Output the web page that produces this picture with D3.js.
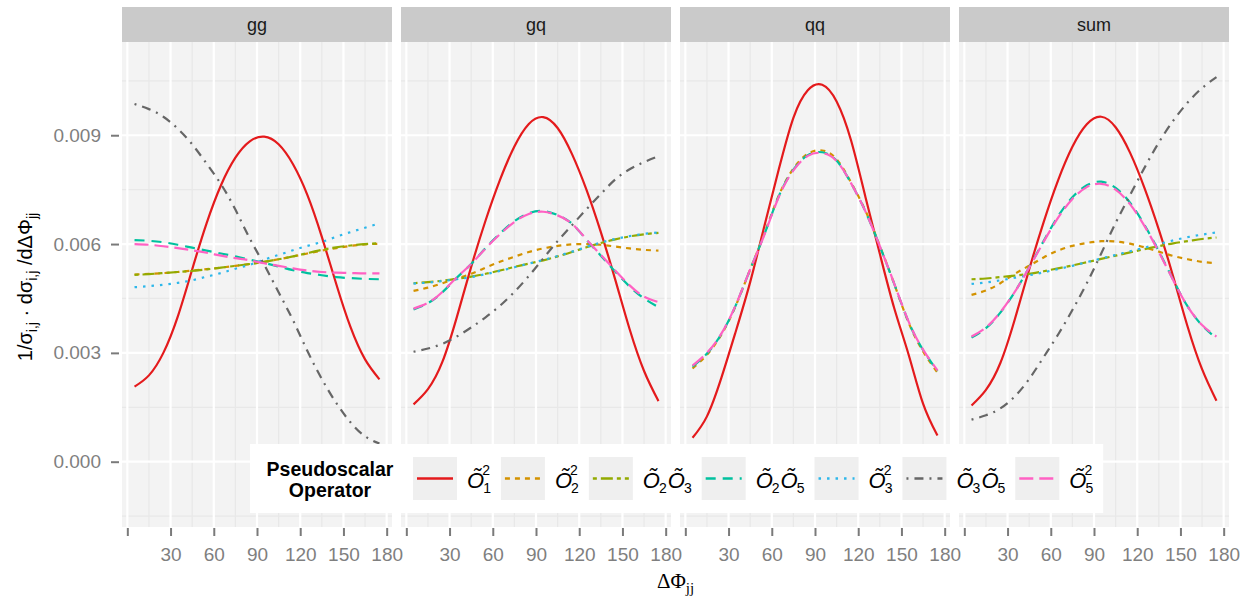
<!DOCTYPE html>
<html>
<head>
<meta charset="utf-8">
<script src="https://cdn.jsdelivr.net/npm/d3@7"></script>
<style>
    body { margin: 0; background: #ffffff; }
    text { font-family: "Liberation Sans", Arial, Helvetica, sans-serif; }
</style>
</head>
<body>
<svg id="drawing_region"></svg>
<script>
// ---- data ----
const panels = ['gg', 'gq', 'qq', 'sum'];
const operators = ['o1o1', 'o2o2', 'o2o3', 'o2o5', 'o3o3', 'o3o5', 'o5o5'];
const dphi = [5, 15, 25, 35, 45, 55, 65, 75, 85, 95, 105, 115, 125, 135, 145, 155, 165, 175];
const x_ticks = [0, 30, 60, 90, 120, 150, 180];
const y_ticks = [0, 0.003, 0.006, 0.009];

const gg_o1o1 = [0.00207,0.00238,0.00300,0.00400,0.00530,0.00657,0.00762,0.00838,0.00883,0.00896,0.00875,0.00820,0.00735,0.00620,0.00490,0.00370,0.00282,0.00227];
const gg_o2o2 = [0.00516,0.00518,0.00520,0.00523,0.00527,0.00531,0.00535,0.00540,0.00545,0.00551,0.00558,0.00566,0.00574,0.00582,0.00589,0.00595,0.00599,0.00601];
const gg_o2o3 = [0.00515,0.00517,0.00520,0.00523,0.00526,0.00530,0.00535,0.00540,0.00545,0.00551,0.00558,0.00566,0.00575,0.00584,0.00591,0.00596,0.00600,0.00602];
const gg_o2o5 = [0.00611,0.00609,0.00605,0.00598,0.00590,0.00582,0.00574,0.00566,0.00557,0.00548,0.00538,0.00528,0.00520,0.00514,0.00509,0.00506,0.00504,0.00503];
const gg_o3o3 = [0.00481,0.00484,0.00488,0.00493,0.00500,0.00510,0.00520,0.00532,0.00543,0.00557,0.00570,0.00583,0.00595,0.00606,0.00620,0.00633,0.00645,0.00657];
const gg_o3o5 = [0.00986,0.00972,0.00951,0.00918,0.00875,0.00822,0.00765,0.00695,0.00615,0.00543,0.00467,0.00390,0.00305,0.00228,0.00162,0.00108,0.00070,0.00050];
const gg_o5o5 = [0.00600,0.00598,0.00594,0.00589,0.00583,0.00576,0.00568,0.00561,0.00555,0.00547,0.00540,0.00533,0.00527,0.00523,0.00521,0.00520,0.00519,0.00519];

const gq_o1o1 = [0.00158,0.00200,0.00275,0.00398,0.00537,0.00665,0.00777,0.00869,0.00931,0.00950,0.00920,0.00848,0.00750,0.00633,0.00502,0.00365,0.00250,0.00167];
const gq_o2o2 = [0.00471,0.00480,0.00492,0.00505,0.00518,0.00535,0.00551,0.00565,0.00578,0.00588,0.00595,0.00599,0.00600,0.00598,0.00593,0.00588,0.00584,0.00582];
const gq_o2o3 = [0.00492,0.00495,0.00499,0.00504,0.00510,0.00518,0.00527,0.00537,0.00546,0.00555,0.00566,0.00578,0.00591,0.00603,0.00613,0.00621,0.00627,0.00631];
const gq_o2o5 = [0.00420,0.00437,0.00467,0.00507,0.00545,0.00589,0.00629,0.00663,0.00685,0.00691,0.00680,0.00656,0.00612,0.00568,0.00524,0.00483,0.00450,0.00426];
const gq_o3o3 = [0.00491,0.00494,0.00498,0.00503,0.00509,0.00517,0.00526,0.00536,0.00546,0.00556,0.00567,0.00579,0.00592,0.00604,0.00614,0.00622,0.00628,0.00632];
const gq_o3o5 = [0.00303,0.00312,0.00325,0.00345,0.00370,0.00398,0.00430,0.00468,0.00512,0.00560,0.00608,0.00652,0.00696,0.00738,0.00778,0.00806,0.00826,0.00842];
const gq_o5o5 = [0.00422,0.00438,0.00468,0.00508,0.00545,0.00588,0.00627,0.00661,0.00683,0.00689,0.00679,0.00656,0.00613,0.00570,0.00527,0.00486,0.00455,0.00440];

const qq_o1o1 = [0.00066,0.00125,0.00231,0.00359,0.00495,0.00652,0.00808,0.00948,0.01024,0.01039,0.00993,0.00886,0.00730,0.00573,0.00423,0.00295,0.00160,0.00072];
const qq_o2o2 = [0.00257,0.00295,0.00350,0.00430,0.00530,0.00630,0.00735,0.00808,0.00849,0.00858,0.00834,0.00770,0.00692,0.00595,0.00490,0.00383,0.00304,0.00246];
const qq_o2o5 = [0.00262,0.00298,0.00352,0.00431,0.00530,0.00628,0.00733,0.00805,0.00845,0.00853,0.00830,0.00768,0.00690,0.00594,0.00490,0.00385,0.00308,0.00250];
const qq_o5o5 = [0.00265,0.00300,0.00353,0.00432,0.00530,0.00627,0.00731,0.00803,0.00843,0.00851,0.00829,0.00768,0.00690,0.00594,0.00491,0.00386,0.00309,0.00252];

const sum_o1o1 = [0.00155,0.00198,0.00272,0.00392,0.00530,0.00660,0.00775,0.00868,0.00930,0.00951,0.00922,0.00852,0.00755,0.00640,0.00510,0.00372,0.00255,0.00168];
const sum_o2o2 = [0.00460,0.00472,0.00492,0.00518,0.00540,0.00563,0.00582,0.00595,0.00603,0.00608,0.00607,0.00601,0.00591,0.00579,0.00567,0.00558,0.00551,0.00547];
const sum_o2o3 = [0.00503,0.00505,0.00509,0.00513,0.00518,0.00525,0.00533,0.00541,0.00550,0.00559,0.00568,0.00577,0.00586,0.00594,0.00602,0.00608,0.00614,0.00618];
const sum_o2o5 = [0.00342,0.00368,0.00411,0.00468,0.00536,0.00608,0.00676,0.00729,0.00762,0.00772,0.00755,0.00714,0.00653,0.00580,0.00501,0.00428,0.00376,0.00340];
const sum_o3o3 = [0.00490,0.00494,0.00500,0.00507,0.00514,0.00522,0.00531,0.00540,0.00550,0.00560,0.00570,0.00580,0.00590,0.00600,0.00610,0.00619,0.00626,0.00632];
const sum_o3o5 = [0.00116,0.00128,0.00147,0.00180,0.00228,0.00288,0.00350,0.00418,0.00492,0.00574,0.00658,0.00735,0.00810,0.00880,0.00940,0.00990,0.01030,0.01060];
const sum_o5o5 = [0.00345,0.00370,0.00412,0.00468,0.00535,0.00606,0.00672,0.00724,0.00757,0.00766,0.00750,0.00710,0.00650,0.00578,0.00500,0.00428,0.00377,0.00345];

// qq has no O2O3, O3^2, O3O5 curves
const panel_series = {
    gg:  { o1o1: gg_o1o1, o2o2: gg_o2o2, o2o3: gg_o2o3, o2o5: gg_o2o5, o3o3: gg_o3o3, o3o5: gg_o3o5, o5o5: gg_o5o5 },
    gq:  { o1o1: gq_o1o1, o2o2: gq_o2o2, o2o3: gq_o2o3, o2o5: gq_o2o5, o3o3: gq_o3o3, o3o5: gq_o3o5, o5o5: gq_o5o5 },
    qq:  { o1o1: qq_o1o1, o2o2: qq_o2o2, o2o5: qq_o2o5, o5o5: qq_o5o5 },
    sum: { o1o1: sum_o1o1, o2o2: sum_o2o2, o2o3: sum_o2o3, o2o5: sum_o2o5, o3o3: sum_o3o3, o3o5: sum_o3o5, o5o5: sum_o5o5 }
};

// legend labels: one entry per tilde-O, with its sub/superscript
const op_labels = {
    o1o1: [{sub: '1', sup: '2'}],
    o2o2: [{sub: '2', sup: '2'}],
    o2o3: [{sub: '2'}, {sub: '3'}],
    o2o5: [{sub: '2'}, {sub: '5'}],
    o3o3: [{sub: '3', sup: '2'}],
    o3o5: [{sub: '3'}, {sub: '5'}],
    o5o5: [{sub: '5', sup: '2'}]
};

// ---- styles ----
const op_color = d3.scaleOrdinal()
    .domain(operators)
    .range(['#E41A1C', '#D39200', '#93AA00', '#00C19F', '#2DB7EA', '#666666', '#FF61C3']);
const op_dash = {
    o1o1: null, o2o2: '5,5', o2o3: '4,4,12,4', o2o5: '10,7',
    o3o3: '2.5,6', o3o5: '2,6,9,6', o5o5: '14,6'
};

const config = {
    parent: '#drawing_region',
    width: 1250,
    height: 597,
    left: 122,
    right: 1229,
    gap: 9,
    strip_top: 7,
    top: 42,
    bottom: 527
};

class FacetChart {

    constructor( config ) {
        this.config = config;
        this.init();
    }

    init() {
        let self = this;
        const c = self.config;

        self.svg = d3.select( c.parent )
            .attr('width', c.width)
            .attr('height', c.height);

        self.panel_width = (c.right - c.left - 3 * c.gap) / 4;

        self.xscale = d3.scaleLinear()
            .domain([-3.7, 183.7])
            .range([0, self.panel_width]);

        self.yscale = d3.scaleLinear()
            .domain([-0.0018, 0.01157])
            .range([c.bottom, c.top]);

        self.line = d3.line()
            .x( d => self.xscale(d.x) )
            .y( d => self.yscale(d.y) )
            .curve( d3.curveNatural );
    }

    render() {
        let self = this;
        const c = self.config;

        panels.forEach( (name, i) => {
            const left = c.left + i * (self.panel_width + c.gap);
            const g = self.svg.append('g')
                .attr('transform', `translate(${left}, 0)`);

            // strip
            g.append('rect')
                .attr('x', 0).attr('y', c.strip_top)
                .attr('width', self.panel_width).attr('height', c.top - c.strip_top)
                .attr('fill', '#cacaca');
            g.append('text')
                .attr('x', self.panel_width / 2)
                .attr('y', (c.strip_top + c.top) / 2 + 6)
                .attr('text-anchor', 'middle')
                .attr('font-size', '18px')
                .attr('fill', '#1a1a1a')
                .text(name);

            // panel background + grid
            g.append('rect')
                .attr('x', 0).attr('y', c.top)
                .attr('width', self.panel_width).attr('height', c.bottom - c.top)
                .attr('fill', '#f3f3f3');

            const x_minor = x_ticks.slice(0, -1).map( d => d + 15 );
            const y_minor = [-0.0015, 0.0015, 0.0045, 0.0075, 0.0105];

            g.selectAll('.xminor').data(x_minor).enter().append('line')
                .attr('x1', d => self.xscale(d)).attr('x2', d => self.xscale(d))
                .attr('y1', c.top).attr('y2', c.bottom)
                .attr('stroke', '#e8e8e8').attr('stroke-width', 1.2);
            g.selectAll('.yminor').data(y_minor).enter().append('line')
                .attr('x1', 0).attr('x2', self.panel_width)
                .attr('y1', d => self.yscale(d)).attr('y2', d => self.yscale(d))
                .attr('stroke', '#e8e8e8').attr('stroke-width', 1.2);
            g.selectAll('.xmajor').data(x_ticks).enter().append('line')
                .attr('x1', d => self.xscale(d)).attr('x2', d => self.xscale(d))
                .attr('y1', c.top).attr('y2', c.bottom)
                .attr('stroke', '#ffffff').attr('stroke-width', 2.2);
            g.selectAll('.ymajor').data(y_ticks).enter().append('line')
                .attr('x1', 0).attr('x2', self.panel_width)
                .attr('y1', d => self.yscale(d)).attr('y2', d => self.yscale(d))
                .attr('stroke', '#ffffff').attr('stroke-width', 2.2);

            // curves
            const series = panel_series[name];
            operators.filter( op => series[op] ).forEach( op => {
                const pts = dphi.map( (x, k) => ({ x: x, y: series[op][k] }) );
                g.append('path')
                    .datum(pts)
                    .attr('fill', 'none')
                    .attr('stroke', op_color(op))
                    .attr('stroke-width', 2.2)
                    .attr('stroke-dasharray', op_dash[op])
                    .attr('d', self.line);
            });

            // x axis
            const xaxis = d3.axisBottom( self.xscale )
                .tickValues(x_ticks)
                .tickSize(8)
                .tickPadding(12)
                .tickFormat( d => d === 0 ? '' : d );
            const xg = g.append('g')
                .attr('transform', `translate(0, ${c.bottom + 1})`)
                .call(xaxis);
            self.style_axis(xg);
        });

        // y axis
        const yaxis = d3.axisLeft( self.yscale )
            .tickValues(y_ticks)
            .tickSize(8)
            .tickPadding(10)
            .tickFormat( d3.format('.3f') );
        const yg = self.svg.append('g')
            .attr('transform', `translate(${c.left - 3}, 0)`)
            .call(yaxis);
        self.style_axis(yg);

        // axis titles
        const ytitle = self.svg.append('text')
            .attr('transform', 'translate(31.5, 287) rotate(-90)')
            .attr('text-anchor', 'middle')
            .attr('font-size', '20px')
            .attr('fill', '#000');
        ytitle.append('tspan').text('1/σ');
        ytitle.append('tspan').attr('font-size', '14px').attr('dy', 5).text('i,j');
        ytitle.append('tspan').attr('dy', -5).text(' · dσ');
        ytitle.append('tspan').attr('font-size', '14px').attr('dy', 5).text('i,j');
        ytitle.append('tspan').attr('dy', -5).text(' /dΔΦ');
        ytitle.append('tspan').attr('font-size', '14px').attr('dy', 5).text('jj');

        const xtitle = self.svg.append('text')
            .attr('x', (c.left + c.right) / 2)
            .attr('y', 588)
            .attr('text-anchor', 'middle')
            .style('font-family', '"Liberation Serif", "Times New Roman", serif')
            .attr('font-size', '21px')
            .attr('fill', '#000');
        xtitle.append('tspan').text('ΔΦ');
        xtitle.append('tspan').attr('font-size', '15px').attr('dy', 5).text('jj');

        self.render_legend();
    }

    style_axis( axis_group ) {
        axis_group.select('.domain').remove();
        axis_group.selectAll('line')
            .attr('stroke', '#7a7a7a')
            .attr('stroke-width', 2);
        axis_group.selectAll('text')
            .attr('fill', '#7f7f7f')
            .attr('font-size', '19px')
            .style('font-family', '"Liberation Sans", Arial, sans-serif');
    }

    render_legend() {
        let self = this;
        const lg = self.svg.append('g');

        const box = lg.append('rect')
            .attr('x', 250).attr('y', 444)
            .attr('height', 69)
            .attr('fill', '#ffffff');

        const title = lg.append('text')
            .attr('text-anchor', 'middle')
            .attr('font-weight', 'bold')
            .attr('font-size', '19.5px')
            .attr('fill', '#000');
        title.append('tspan').attr('x', 330).attr('y', 476).text('Pseudoscalar');
        title.append('tspan').attr('x', 330).attr('y', 497).text('Operator');

        const key_w = 44, key_top = 457, key_h = 43;
        let x = 413;
        operators.forEach( op => {
            lg.append('rect')
                .attr('x', x).attr('y', key_top)
                .attr('width', key_w).attr('height', key_h)
                .attr('fill', '#efefef');
            lg.append('line')
                .attr('x1', x + 4).attr('x2', x + key_w - 4)
                .attr('y1', key_top + key_h / 2).attr('y2', key_top + key_h / 2)
                .attr('stroke', op_color(op))
                .attr('stroke-width', 2.4)
                .attr('stroke-dasharray', op_dash[op]);
            x += key_w + 10;
            x = self.draw_label(lg, x, 488, op_labels[op]) + 9;
        });
        box.attr('width', x - 250);
    }

    draw_label( g, x, baseline, parts ) {
        let cx = x;
        parts.forEach( p => {
            const o = g.append('text')
                .attr('x', cx).attr('y', baseline)
                .attr('font-style', 'italic')
                .attr('font-size', '22px')
                .attr('fill', '#000')
                .text('Õ');
            const w = o.node().getComputedTextLength();
            let sw = 0;
            if (p.sup) {
                const s = g.append('text')
                    .attr('x', cx + w - 2).attr('y', baseline - 13)
                    .attr('font-size', '14px').attr('fill', '#000')
                    .text(p.sup);
                sw = Math.max(sw, s.node().getComputedTextLength());
            }
            const b = g.append('text')
                .attr('x', cx + w - 1).attr('y', baseline + 5)
                .attr('font-size', '14px').attr('fill', '#000')
                .text(p.sub);
            sw = Math.max(sw, b.node().getComputedTextLength());
            cx += w - 1 + sw + 1;
        });
        return cx;
    }
}

const chart = new FacetChart( config );
chart.render();
</script>
</body>
</html>
